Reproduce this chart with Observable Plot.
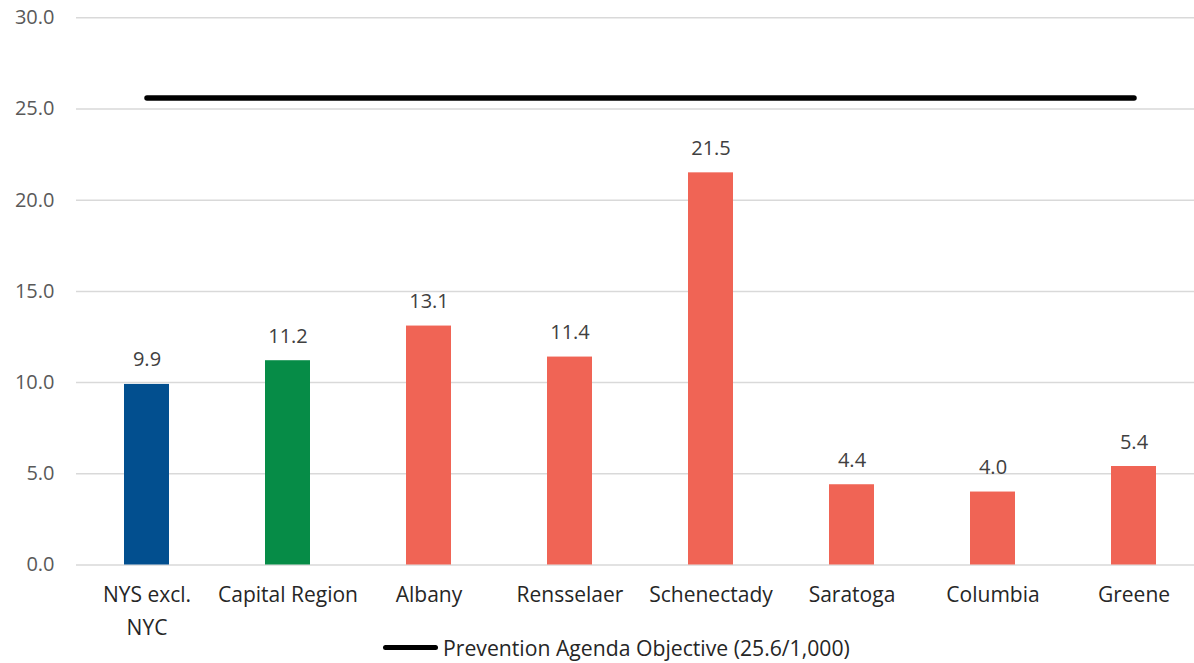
<!DOCTYPE html>
<html>
<head>
<meta charset="utf-8">
<script src="https://cdn.jsdelivr.net/npm/d3@7"></script>
<script src="https://cdn.jsdelivr.net/npm/@observablehq/plot@0.6"></script>
<style>
  html, body { margin: 0; padding: 0; background: #fff; }
  body { width: 1194px; height: 663px; overflow: hidden; font-family: "Open Sans", sans-serif; }
  #legend { position: relative; height: 31px; margin-top: -14px; font-size: 21.2px; line-height: 31px; color: #262626; }
  #legend .item { position: absolute; left: 383px; top: 0; display: flex; align-items: center; height: 31px; }
  #legend .swatch { width: 55px; height: 5px; background: #000; border-radius: 3px; margin-right: 5px; }
</style>
</head>
<body>
<div id="chart"></div>
<div id="legend"><div class="item"><span class="swatch"></span><span id="legendText"></span></div></div>
<script>
const categories = ["NYS excl.\nNYC", "Capital Region", "Albany", "Rensselaer", "Schenectady", "Saratoga", "Columbia", "Greene"];
const values = [9.9, 11.2, 13.1, 11.4, 21.5, 4.4, 4.0, 5.4];
const groups = ["State", "Region", "County", "County", "County", "County", "County", "County"];
const groupNames = ["State", "Region", "County"];
const groupColors = ["#024F8F", "#068C47", "#F06455"];
const objectiveValue = 25.6;
const objectiveLabel = "Prevention Agenda Objective (25.6/1,000)";
const yTicks = [0, 5, 10, 15, 20, 25, 30];

const data = categories.map((c, i) => ({cat: c, value: values[i], group: groups[i]}));
const objective = categories.map(c => ({cat: c, value: objectiveValue}));

const chart = Plot.plot({
  width: 1194,
  height: 646,
  marginTop: 17.3,
  marginBottom: 81.5,
  marginLeft: 76,
  marginRight: 0,
  style: {fontFamily: "Open Sans, sans-serif", fontSize: "20px", background: "#fff"},
  x: {domain: categories, range: [76, 1204.5], paddingInner: 0.68, paddingOuter: 0.34, label: null},
  y: {domain: [0, 30], label: null},
  color: {domain: groupNames, range: groupColors},
  marks: [
    Plot.ruleY(yTicks, {stroke: "#d9d9d9", strokeWidth: 1.5}),
    Plot.barY(data, {x: "cat", y: "value", fill: "group"}),
    Plot.text(data, {x: "cat", y: "value", text: d => d.value.toFixed(1), lineAnchor: "bottom", dy: -18, fill: "#404040", fontSize: 20}),
    Plot.lineY(objective, {x: "cat", y: "value", stroke: "#000", strokeWidth: 5.5, strokeLinecap: "round"}),
    Plot.axisY({ticks: yTicks, tickFormat: d => d.toFixed(1), tickSize: 0, tickPadding: 22, fontSize: 20, fill: "#595959", label: null}),
    Plot.axisX({tickSize: 0, tickPadding: 13, fontSize: 21, lineHeight: 1.6, fill: "#262626", label: null})
  ]
});
document.getElementById("chart").appendChild(chart);
document.getElementById("legendText").textContent = objectiveLabel;
</script>
</body>
</html>
